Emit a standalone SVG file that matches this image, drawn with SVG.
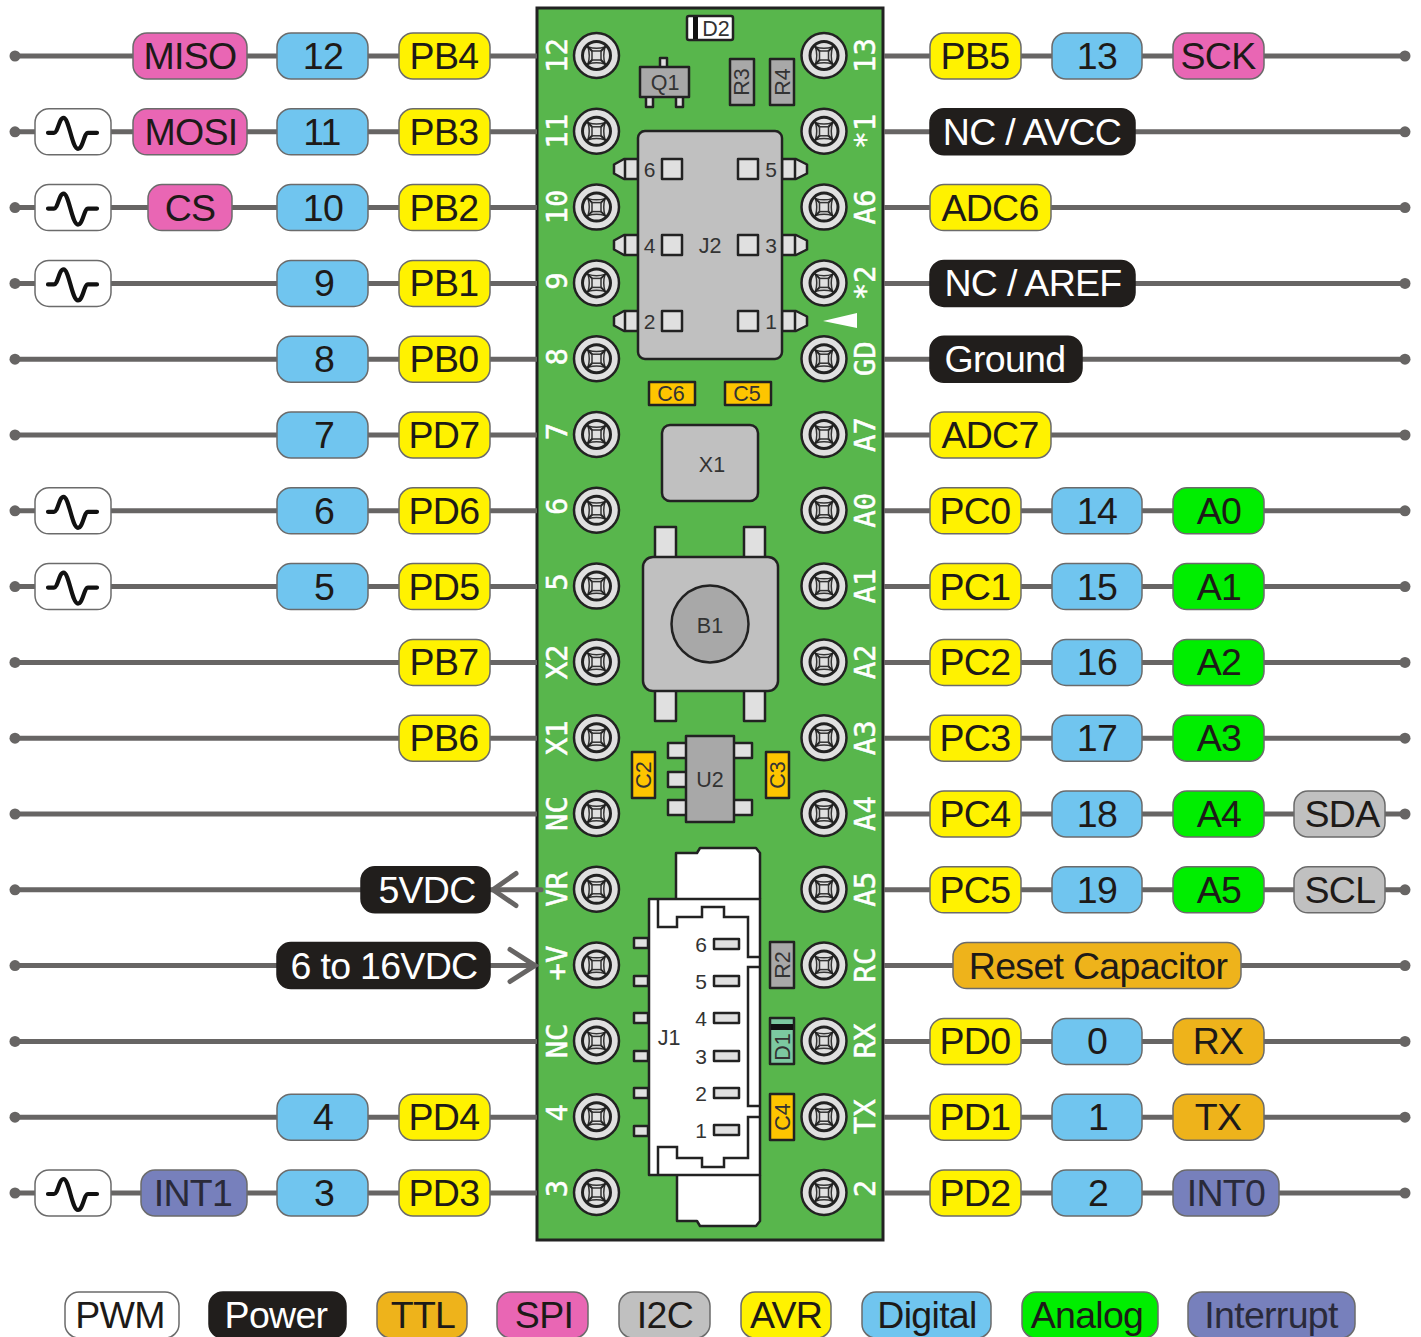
<svg xmlns="http://www.w3.org/2000/svg" width="1421" height="1337" viewBox="0 0 1421 1337">
<style>
text{font-family:"Liberation Sans",Arial,sans-serif}
.pill rect{stroke:#6b6b6b;stroke-width:1.5;rx:14px;ry:14px}
.pill text{font-size:37.5px;text-anchor:middle;fill:#1d1a18;letter-spacing:-.7px}
.avr rect{fill:#fff200}
.dig rect{fill:#70c5ef}
.spi rect{fill:#e966b4}
.pwm rect{fill:#fff}
.pow rect{fill:#211e1c;stroke:#211e1c}
.pow text{fill:#fff}
.ana rect{fill:#00ee00}
.ttl rect{fill:#eeb31b}
.i2c rect{fill:#c0c0c0}
.int rect{fill:#7780bc}
.int text{fill:#2a2a3a}
.wv{fill:#fff;stroke:#6b6b6b;stroke-width:1.5;rx:14px;ry:14px}
.wire{stroke:#676564;stroke-width:5;fill:none}
.arrow{stroke:#676564;stroke-width:5;fill:none;stroke-linecap:round;stroke-linejoin:miter}
.pin{font-family:"DejaVu Sans Mono",monospace;font-size:29px;fill:#fff;stroke:#fff;stroke-width:.5px;text-anchor:middle}
.c{stroke:#222;stroke-width:2.5;stroke-linejoin:round}
.lbl{font-size:21.500px;fill:#333;text-anchor:middle}
.num{font-size:21px}
.g1{fill:#c0c0c0}.g2{fill:#a8a8a8}.g3{fill:#e0e0e0}.cap{fill:#fec500}.wh{fill:#fff}
.in{fill:none;stroke:#222;stroke-width:2.5;stroke-linejoin:miter}
</style>
<defs>
<marker id="dot" markerUnits="userSpaceOnUse" markerWidth="14" markerHeight="14" refX="7" refY="7"><circle cx="7" cy="7" r="5.5" fill="#676564"/></marker>
<g id="pad">
<circle r="22.5" fill="#e0e0e0" stroke="#222" stroke-width="2.5"/>
<circle r="14" fill="#e0e0e0" stroke="#222" stroke-width="3"/>
<path d="M-8.500-8.500Q0-6 8.500-8.500Q6 0 8.500 8.500Q0 6-8.500 8.500Q-6 0-8.500-8.500Z" fill="#e0e0e0" stroke="#333" stroke-width="1.500"/>
<path d="M-10-10L-4-4M10-10L4-4M-10 10L-4 4M10 10L4 4" stroke="#222" stroke-width="2"/>
<rect x="-4.500" y="-4.500" width="9" height="9" fill="#e0e0e0" stroke="#333" stroke-width="1.500"/>
</g>
<g id="wave"><rect class="wv" x="35" y="-23" width="76" height="46"/><path d="M48 1H54C58 1 59-14 63.500-14C69-14 72 17 78 17C83 17 84 1 88 1H97" fill="none" stroke="#111" stroke-width="4.200" stroke-linecap="round" stroke-linejoin="round"/></g>
<g id="tabL"><path d="M638 159H624L614 164.500V173.500L624 179H638Z" class="c g3"/><path d="M625 159V179" class="c"/></g>
<g id="tabR"><path d="M782 159H796L807 164.500V173.500L796 179H782Z" class="c g3"/><path d="M795 159V179" class="c"/></g>
</defs>
<rect width="1421" height="1337" fill="#fff"/>
<g id="board">
<rect x="537" y="8" width="346" height="1232" fill="#58b64c" stroke="#222" stroke-width="3"/>
<g id="pads-left">
<use href="#pad" x="596.500" y="55.500"/><use href="#pad" x="596.500" y="131.300"/><use href="#pad" x="596.500" y="207.100"/><use href="#pad" x="596.500" y="282.900"/><use href="#pad" x="596.500" y="358.700"/><use href="#pad" x="596.500" y="434.500"/><use href="#pad" x="596.500" y="510.300"/><use href="#pad" x="596.500" y="586.100"/><use href="#pad" x="596.500" y="661.900"/><use href="#pad" x="596.500" y="737.700"/><use href="#pad" x="596.500" y="813.500"/><use href="#pad" x="596.500" y="889.300"/><use href="#pad" x="596.500" y="965.100"/><use href="#pad" x="596.500" y="1040.900"/><use href="#pad" x="596.500" y="1116.700"/><use href="#pad" x="596.500" y="1192.500"/>
</g>
<g id="pads-right">
<use href="#pad" x="824" y="55.500"/><use href="#pad" x="824" y="131.300"/><use href="#pad" x="824" y="207.100"/><use href="#pad" x="824" y="282.900"/><use href="#pad" x="824" y="358.700"/><use href="#pad" x="824" y="434.500"/><use href="#pad" x="824" y="510.300"/><use href="#pad" x="824" y="586.100"/><use href="#pad" x="824" y="661.900"/><use href="#pad" x="824" y="737.700"/><use href="#pad" x="824" y="813.500"/><use href="#pad" x="824" y="889.300"/><use href="#pad" x="824" y="965.100"/><use href="#pad" x="824" y="1040.900"/><use href="#pad" x="824" y="1116.700"/><use href="#pad" x="824" y="1192.500"/>
</g>
<g id="pin-labels-left">
<text class="pin" transform="translate(567,55.500) rotate(-90)">12</text>
<text class="pin" transform="translate(567,131.300) rotate(-90)">11</text>
<text class="pin" transform="translate(567,207.100) rotate(-90)">10</text>
<text class="pin" transform="translate(567,280.900) rotate(-90)">9</text>
<text class="pin" transform="translate(567,356.700) rotate(-90)">8</text>
<text class="pin" transform="translate(567,431.500) rotate(-90)">7</text>
<text class="pin" transform="translate(567,506.300) rotate(-90)">6</text>
<text class="pin" transform="translate(567,582.100) rotate(-90)">5</text>
<text class="pin" transform="translate(567,661.900) rotate(-90)">X2</text>
<text class="pin" transform="translate(567,737.700) rotate(-90)">X1</text>
<text class="pin" transform="translate(567,813.500) rotate(-90)">NC</text>
<text class="pin" transform="translate(567,889.300) rotate(-90)">VR</text>
<text class="pin" transform="translate(567,963.100) rotate(-90)">+V</text>
<text class="pin" transform="translate(567,1040.900) rotate(-90)">NC</text>
<text class="pin" transform="translate(567,1112.700) rotate(-90)">4</text>
<text class="pin" transform="translate(567,1188.500) rotate(-90)">3</text>
</g>
<g id="pin-labels-right">
<text class="pin" transform="translate(875,55.500) rotate(-90)">13</text>
<text class="pin" transform="translate(875,131.300) rotate(-90)">*1</text>
<text class="pin" transform="translate(875,207.100) rotate(-90)">A6</text>
<text class="pin" transform="translate(875,282.900) rotate(-90)">*2</text>
<text class="pin" transform="translate(875,358.700) rotate(-90)">GD</text>
<text class="pin" transform="translate(875,434.500) rotate(-90)">A7</text>
<text class="pin" transform="translate(875,510.300) rotate(-90)">A0</text>
<text class="pin" transform="translate(875,586.100) rotate(-90)">A1</text>
<text class="pin" transform="translate(875,661.900) rotate(-90)">A2</text>
<text class="pin" transform="translate(875,737.700) rotate(-90)">A3</text>
<text class="pin" transform="translate(875,813.500) rotate(-90)">A4</text>
<text class="pin" transform="translate(875,889.300) rotate(-90)">A5</text>
<text class="pin" transform="translate(875,965.100) rotate(-90)">RC</text>
<text class="pin" transform="translate(875,1040.900) rotate(-90)">RX</text>
<text class="pin" transform="translate(875,1116.700) rotate(-90)">TX</text>
<text class="pin" transform="translate(875,1188.500) rotate(-90)">2</text>
</g>
<g id="D2"><rect x="687" y="16" width="46" height="24" rx="2" class="c wh"/><rect x="693" y="17" width="5" height="22" fill="#111"/><text class="lbl" x="716" y="35.500">D2</text></g>
<g id="Q1"><rect x="660" y="58" width="7" height="10" class="c g3"/><rect x="646" y="96" width="7" height="11" class="c g3"/><rect x="676" y="96" width="7" height="11" class="c g3"/><rect x="640" y="67" width="49" height="30" class="c g2"/><text class="lbl" x="665" y="90">Q1</text></g>
<g id="R3"><rect x="730" y="59" width="24" height="46" class="c g2"/><text class="lbl" transform="translate(749,82) rotate(-90)">R3</text></g>
<g id="R4"><rect x="770" y="59" width="24" height="46" class="c g2"/><text class="lbl" transform="translate(790,82) rotate(-90)">R4</text></g>
<g id="J2">
<use href="#tabL"/><use href="#tabL" y="76"/><use href="#tabL" y="152"/><use href="#tabR"/><use href="#tabR" y="76"/><use href="#tabR" y="152"/>
<rect x="638" y="131" width="144" height="228" rx="7" class="c g1"/>
<rect x="662" y="159" width="20" height="20" class="c g3"/><rect x="738" y="159" width="20" height="20" class="c g3"/>
<rect x="662" y="235" width="20" height="20" class="c g3"/><rect x="738" y="235" width="20" height="20" class="c g3"/>
<rect x="662" y="311" width="20" height="20" class="c g3"/><rect x="738" y="311" width="20" height="20" class="c g3"/>
<text class="lbl num" x="649.500" y="176.500">6</text><text class="lbl num" x="771" y="176.500">5</text>
<text class="lbl num" x="649.500" y="252.500">4</text><text class="lbl num" x="771" y="252.500">3</text>
<text class="lbl num" x="649.500" y="328.500">2</text><text class="lbl num" x="771" y="328.500">1</text>
<text class="lbl" x="710" y="252.500">J2</text>
</g>
<path id="pin1-mark" d="M823 321L857 313V328Z" fill="#fff"/>
<g id="C6"><rect x="649" y="382" width="46" height="23" class="c cap"/><text class="lbl" x="671" y="401">C6</text></g>
<g id="C5"><rect x="725" y="382" width="46" height="23" class="c cap"/><text class="lbl" x="747" y="401">C5</text></g>
<g id="X1"><rect x="662" y="425" width="96" height="76" rx="8" class="c g1"/><text class="lbl" x="712" y="471.500">X1</text></g>
<g id="B1">
<rect x="655" y="527" width="21" height="32" class="c g3"/><rect x="744" y="527" width="21" height="32" class="c g3"/>
<rect x="655" y="689" width="21" height="32" class="c g3"/><rect x="744" y="689" width="21" height="32" class="c g3"/>
<rect x="643" y="557" width="135" height="134" rx="10" class="c g1"/><circle cx="710" cy="624" r="38.500" class="c g2"/><text class="lbl" x="710" y="632.500">B1</text>
</g>
<g id="U2">
<rect x="668" y="743" width="19" height="15" class="c g3"/><rect x="668" y="772" width="19" height="15" class="c g3"/><rect x="668" y="800" width="19" height="15" class="c g3"/>
<rect x="733" y="743" width="19" height="15" class="c g3"/><rect x="733" y="800" width="19" height="15" class="c g3"/>
<rect x="686" y="736" width="48" height="86" class="c g2"/><text class="lbl" x="710" y="787">U2</text>
</g>
<g id="C2"><rect x="632" y="752" width="23" height="46" class="c cap"/><text class="lbl" transform="translate(651,775) rotate(-90)">C2</text></g>
<g id="C3"><rect x="766" y="752" width="23" height="46" class="c cap"/><text class="lbl" transform="translate(785,775) rotate(-90)">C3</text></g>
<g id="J1">
<path d="M676 899V853H697L700 848H756L760 853V899" class="c wh"/>
<path d="M677 1175V1221H697L700 1226H756L760 1221V1175" class="c wh"/>
<rect x="634" y="938" width="14" height="10" class="c g3"/><rect x="634" y="976" width="14" height="10" class="c g3"/><rect x="634" y="1013" width="14" height="10" class="c g3"/><rect x="634" y="1051" width="14" height="10" class="c g3"/><rect x="634" y="1088" width="14" height="10" class="c g3"/><rect x="634" y="1126" width="14" height="10" class="c g3"/>
<path d="M760 899H649V1175H760Z" class="c wh"/>
<path class="in" d="M658 899V927H677V917H702V907H724V917H748V957H760M760 967H748V1106H760M760 1117H748V1158H724V1167H702V1158H677V1147H658V1175"/>
<rect x="714" y="939" width="25" height="10" class="c g3"/><rect x="714" y="976" width="25" height="10" class="c g3"/><rect x="714" y="1013" width="25" height="10" class="c g3"/><rect x="714" y="1051" width="25" height="10" class="c g3"/><rect x="714" y="1088" width="25" height="10" class="c g3"/><rect x="714" y="1125" width="25" height="10" class="c g3"/>
<text class="lbl num" x="701" y="951.500">6</text><text class="lbl num" x="701" y="989">5</text><text class="lbl num" x="701" y="1026">4</text><text class="lbl num" x="701" y="1063.500">3</text><text class="lbl num" x="701" y="1101">2</text><text class="lbl num" x="701" y="1138">1</text>
<text class="lbl" x="669" y="1045">J1</text>
</g>
<g id="R2"><rect x="770" y="942" width="24" height="46" class="c g2"/><text class="lbl" transform="translate(790,965) rotate(-90)">R2</text></g>
<g id="D1"><rect x="770" y="1018" width="24" height="46" class="c" fill="#7cc8a0"/><rect x="771" y="1024" width="22" height="6" fill="#111"/><text class="lbl" transform="translate(790,1047) rotate(-90)">D1</text></g>
<g id="C4"><rect x="770" y="1094" width="24" height="46" class="c cap"/><text class="lbl" transform="translate(790,1117) rotate(-90)">C4</text></g>
</g>
<g id="connectors" class="wire" transform="translate(0,.5)">
<path marker-start="url(#dot)" d="M15 55.500H537"/><path marker-start="url(#dot)" d="M15 131.300H537"/><path marker-start="url(#dot)" d="M15 207.100H537"/><path marker-start="url(#dot)" d="M15 282.900H537"/><path marker-start="url(#dot)" d="M15 358.700H537"/><path marker-start="url(#dot)" d="M15 434.500H537"/><path marker-start="url(#dot)" d="M15 510.300H537"/><path marker-start="url(#dot)" d="M15 586.100H537"/><path marker-start="url(#dot)" d="M15 661.900H537"/><path marker-start="url(#dot)" d="M15 737.700H537"/><path marker-start="url(#dot)" d="M15 813.500H537"/><path marker-start="url(#dot)" d="M15 889.300H541" stroke-linecap="round"/><path marker-start="url(#dot)" d="M15 965.100H534"/><path marker-start="url(#dot)" d="M15 1040.900H537"/><path marker-start="url(#dot)" d="M15 1116.700H537"/><path marker-start="url(#dot)" d="M15 1192.500H537"/>
<path marker-end="url(#dot)" d="M884 55.500H1405"/><path marker-end="url(#dot)" d="M884 131.300H1405"/><path marker-end="url(#dot)" d="M884 207.100H1405"/><path marker-end="url(#dot)" d="M884 282.900H1405"/><path marker-end="url(#dot)" d="M884 358.700H1405"/><path marker-end="url(#dot)" d="M884 434.500H1405"/><path marker-end="url(#dot)" d="M884 510.300H1405"/><path marker-end="url(#dot)" d="M884 586.100H1405"/><path marker-end="url(#dot)" d="M884 661.900H1405"/><path marker-end="url(#dot)" d="M884 737.700H1405"/><path marker-end="url(#dot)" d="M884 813.500H1405"/><path marker-end="url(#dot)" d="M884 889.300H1405"/><path marker-end="url(#dot)" d="M884 965.100H1405"/><path marker-end="url(#dot)" d="M884 1040.900H1405"/><path marker-end="url(#dot)" d="M884 1116.700H1405"/><path marker-end="url(#dot)" d="M884 1192.500H1405"/>
<path class="arrow" d="M516 873L493 889.300L516 905"/><path class="arrow" d="M510 949L535 965.100L510 981"/>
</g>
<g id="pins-left" transform="translate(0,.5)">
<g class="pill spi" id="miso" transform="translate(0,55.500)"><rect x="133" y="-23" width="114" height="46"/><text x="190" y="13">MISO</text></g>
<g class="pill dig" id="d12" transform="translate(0,55.500)"><rect x="277" y="-23" width="91" height="46"/><text x="323" y="13">12</text></g>
<g class="pill avr" id="pb4" transform="translate(0,55.500)"><rect x="399" y="-23" width="91" height="46"/><text x="444" y="13">PB4</text></g>
<g class="pill pwm" id="pwm11" transform="translate(0,131.300)"><use href="#wave"/></g>
<g class="pill spi" id="mosi" transform="translate(0,131.300)"><rect x="133" y="-23" width="114" height="46"/><text x="191" y="13">MOSI</text></g>
<g class="pill dig" id="d11" transform="translate(0,131.300)"><rect x="277" y="-23" width="91" height="46"/><text x="322" y="13">11</text></g>
<g class="pill avr" id="pb3" transform="translate(0,131.300)"><rect x="399" y="-23" width="91" height="46"/><text x="444" y="13">PB3</text></g>
<g class="pill pwm" id="pwm10" transform="translate(0,207.100)"><use href="#wave"/></g>
<g class="pill spi" id="cs" transform="translate(0,207.100)"><rect x="148" y="-23" width="84" height="46"/><text x="190" y="13">CS</text></g>
<g class="pill dig" id="d10" transform="translate(0,207.100)"><rect x="277" y="-23" width="91" height="46"/><text x="323" y="13">10</text></g>
<g class="pill avr" id="pb2" transform="translate(0,207.100)"><rect x="399" y="-23" width="91" height="46"/><text x="444" y="13">PB2</text></g>
<g class="pill pwm" id="pwm9" transform="translate(0,282.900)"><use href="#wave"/></g>
<g class="pill dig" id="d9" transform="translate(0,282.900)"><rect x="277" y="-23" width="91" height="46"/><text x="324" y="13">9</text></g>
<g class="pill avr" id="pb1" transform="translate(0,282.900)"><rect x="399" y="-23" width="91" height="46"/><text x="444" y="13">PB1</text></g>
<g class="pill dig" id="d8" transform="translate(0,358.700)"><rect x="277" y="-23" width="91" height="46"/><text x="324" y="13">8</text></g>
<g class="pill avr" id="pb0" transform="translate(0,358.700)"><rect x="399" y="-23" width="91" height="46"/><text x="444" y="13">PB0</text></g>
<g class="pill dig" id="d7" transform="translate(0,434.500)"><rect x="277" y="-23" width="91" height="46"/><text x="324" y="13">7</text></g>
<g class="pill avr" id="pd7" transform="translate(0,434.500)"><rect x="399" y="-23" width="91" height="46"/><text x="444" y="13">PD7</text></g>
<g class="pill pwm" id="pwm6" transform="translate(0,510.300)"><use href="#wave"/></g>
<g class="pill dig" id="d6" transform="translate(0,510.300)"><rect x="277" y="-23" width="91" height="46"/><text x="324" y="13">6</text></g>
<g class="pill avr" id="pd6" transform="translate(0,510.300)"><rect x="399" y="-23" width="91" height="46"/><text x="444" y="13">PD6</text></g>
<g class="pill pwm" id="pwm5" transform="translate(0,586.100)"><use href="#wave"/></g>
<g class="pill dig" id="d5" transform="translate(0,586.100)"><rect x="277" y="-23" width="91" height="46"/><text x="324" y="13">5</text></g>
<g class="pill avr" id="pd5" transform="translate(0,586.100)"><rect x="399" y="-23" width="91" height="46"/><text x="444" y="13">PD5</text></g>
<g class="pill avr" id="pb7" transform="translate(0,661.900)"><rect x="399" y="-23" width="91" height="46"/><text x="444" y="13">PB7</text></g>
<g class="pill avr" id="pb6" transform="translate(0,737.700)"><rect x="399" y="-23" width="91" height="46"/><text x="444" y="13">PB6</text></g>
<g class="pill pow" id="v5" transform="translate(0,889.300)"><rect x="361" y="-23" width="129" height="46"/><text x="427" y="13">5VDC</text></g>
<g class="pill pow" id="vin" transform="translate(0,965.100)"><rect x="277" y="-23" width="213" height="46"/><text x="384" y="13">6 to 16VDC</text></g>
<g class="pill dig" id="d4" transform="translate(0,1116.700)"><rect x="277" y="-23" width="91" height="46"/><text x="323" y="13">4</text></g>
<g class="pill avr" id="pd4" transform="translate(0,1116.700)"><rect x="399" y="-23" width="91" height="46"/><text x="444" y="13">PD4</text></g>
<g class="pill pwm" id="pwm3" transform="translate(0,1192.500)"><use href="#wave"/></g>
<g class="pill int" id="int1" transform="translate(0,1192.500)"><rect x="141" y="-23" width="106" height="46"/><text x="193" y="13">INT1</text></g>
<g class="pill dig" id="d3" transform="translate(0,1192.500)"><rect x="277" y="-23" width="91" height="46"/><text x="324" y="13">3</text></g>
<g class="pill avr" id="pd3" transform="translate(0,1192.500)"><rect x="399" y="-23" width="91" height="46"/><text x="444" y="13">PD3</text></g>
</g>
<g id="pins-right" transform="translate(0,.5)">
<g class="pill avr" id="pb5" transform="translate(0,55.500)"><rect x="930" y="-23" width="91" height="46"/><text x="975" y="13">PB5</text></g>
<g class="pill dig" id="d13" transform="translate(0,55.500)"><rect x="1052" y="-23" width="90" height="46"/><text x="1097" y="13">13</text></g>
<g class="pill spi" id="sck" transform="translate(0,55.500)"><rect x="1173" y="-23" width="91" height="46"/><text x="1218" y="13">SCK</text></g>
<g class="pill pow" id="avcc" transform="translate(0,131.300)"><rect x="930" y="-23" width="205" height="46"/><text x="1032" y="13">NC / AVCC</text></g>
<g class="pill avr" id="adc6" transform="translate(0,207.100)"><rect x="930" y="-23" width="121" height="46"/><text x="990" y="13">ADC6</text></g>
<g class="pill pow" id="aref" transform="translate(0,282.900)"><rect x="930" y="-23" width="205" height="46"/><text x="1033" y="13">NC / AREF</text></g>
<g class="pill pow" id="gnd" transform="translate(0,358.700)"><rect x="930" y="-23" width="152" height="46"/><text x="1005" y="13">Ground</text></g>
<g class="pill avr" id="adc7" transform="translate(0,434.500)"><rect x="930" y="-23" width="121" height="46"/><text x="990" y="13">ADC7</text></g>
<g class="pill avr" id="pc0" transform="translate(0,510.300)"><rect x="930" y="-23" width="91" height="46"/><text x="975" y="13">PC0</text></g>
<g class="pill dig" id="d14" transform="translate(0,510.300)"><rect x="1052" y="-23" width="90" height="46"/><text x="1097" y="13">14</text></g>
<g class="pill ana" id="a0" transform="translate(0,510.300)"><rect x="1173" y="-23" width="91" height="46"/><text x="1219" y="13">A0</text></g>
<g class="pill avr" id="pc1" transform="translate(0,586.100)"><rect x="930" y="-23" width="91" height="46"/><text x="975" y="13">PC1</text></g>
<g class="pill dig" id="d15" transform="translate(0,586.100)"><rect x="1052" y="-23" width="90" height="46"/><text x="1097" y="13">15</text></g>
<g class="pill ana" id="a1" transform="translate(0,586.100)"><rect x="1173" y="-23" width="91" height="46"/><text x="1219" y="13">A1</text></g>
<g class="pill avr" id="pc2" transform="translate(0,661.900)"><rect x="930" y="-23" width="91" height="46"/><text x="975" y="13">PC2</text></g>
<g class="pill dig" id="d16" transform="translate(0,661.900)"><rect x="1052" y="-23" width="90" height="46"/><text x="1097" y="13">16</text></g>
<g class="pill ana" id="a2" transform="translate(0,661.900)"><rect x="1173" y="-23" width="91" height="46"/><text x="1219" y="13">A2</text></g>
<g class="pill avr" id="pc3" transform="translate(0,737.700)"><rect x="930" y="-23" width="91" height="46"/><text x="975" y="13">PC3</text></g>
<g class="pill dig" id="d17" transform="translate(0,737.700)"><rect x="1052" y="-23" width="90" height="46"/><text x="1097" y="13">17</text></g>
<g class="pill ana" id="a3" transform="translate(0,737.700)"><rect x="1173" y="-23" width="91" height="46"/><text x="1219" y="13">A3</text></g>
<g class="pill avr" id="pc4" transform="translate(0,813.500)"><rect x="930" y="-23" width="91" height="46"/><text x="975" y="13">PC4</text></g>
<g class="pill dig" id="d18" transform="translate(0,813.500)"><rect x="1052" y="-23" width="90" height="46"/><text x="1097" y="13">18</text></g>
<g class="pill ana" id="a4" transform="translate(0,813.500)"><rect x="1173" y="-23" width="91" height="46"/><text x="1219" y="13">A4</text></g>
<g class="pill i2c" id="sda" transform="translate(0,813.500)"><rect x="1294" y="-23" width="91" height="46"/><text x="1342" y="13">SDA</text></g>
<g class="pill avr" id="pc5" transform="translate(0,889.300)"><rect x="930" y="-23" width="91" height="46"/><text x="975" y="13">PC5</text></g>
<g class="pill dig" id="d19" transform="translate(0,889.300)"><rect x="1052" y="-23" width="90" height="46"/><text x="1097" y="13">19</text></g>
<g class="pill ana" id="a5" transform="translate(0,889.300)"><rect x="1173" y="-23" width="91" height="46"/><text x="1219" y="13">A5</text></g>
<g class="pill i2c" id="scl" transform="translate(0,889.300)"><rect x="1294" y="-23" width="91" height="46"/><text x="1340" y="13">SCL</text></g>
<g class="pill ttl" id="reset" transform="translate(0,965.100)"><rect x="953" y="-23" width="288" height="46"/><text x="1098" y="13">Reset Capacitor</text></g>
<g class="pill avr" id="pd0" transform="translate(0,1040.900)"><rect x="930" y="-23" width="91" height="46"/><text x="975" y="13">PD0</text></g>
<g class="pill dig" id="d0" transform="translate(0,1040.900)"><rect x="1052" y="-23" width="90" height="46"/><text x="1097" y="13">0</text></g>
<g class="pill ttl" id="rx" transform="translate(0,1040.900)"><rect x="1173" y="-23" width="91" height="46"/><text x="1218" y="13">RX</text></g>
<g class="pill avr" id="pd1" transform="translate(0,1116.700)"><rect x="930" y="-23" width="91" height="46"/><text x="975" y="13">PD1</text></g>
<g class="pill dig" id="d1" transform="translate(0,1116.700)"><rect x="1052" y="-23" width="90" height="46"/><text x="1098" y="13">1</text></g>
<g class="pill ttl" id="tx" transform="translate(0,1116.700)"><rect x="1173" y="-23" width="91" height="46"/><text x="1218" y="13">TX</text></g>
<g class="pill avr" id="pd2" transform="translate(0,1192.500)"><rect x="930" y="-23" width="91" height="46"/><text x="975" y="13">PD2</text></g>
<g class="pill dig" id="d2" transform="translate(0,1192.500)"><rect x="1052" y="-23" width="90" height="46"/><text x="1098" y="13">2</text></g>
<g class="pill int" id="int0" transform="translate(0,1192.500)"><rect x="1173" y="-23" width="106" height="46"/><text x="1226" y="13">INT0</text></g>
</g>
<g id="legend">
<g class="pill pwm" id="leg-pwm" transform="translate(0,1315)"><rect x="65" y="-23" width="114" height="46"/><text x="120" y="13">PWM</text></g>
<g class="pill pow" id="leg-power" transform="translate(0,1315)"><rect x="209" y="-23" width="137" height="46"/><text x="276" y="13">Power</text></g>
<g class="pill ttl" id="leg-ttl" transform="translate(0,1315)"><rect x="377" y="-23" width="90" height="46"/><text x="423" y="13">TTL</text></g>
<g class="pill spi" id="leg-spi" transform="translate(0,1315)"><rect x="497" y="-23" width="91" height="46"/><text x="544" y="13">SPI</text></g>
<g class="pill i2c" id="leg-i2c" transform="translate(0,1315)"><rect x="619" y="-23" width="91" height="46"/><text x="665" y="13">I2C</text></g>
<g class="pill avr" id="leg-avr" transform="translate(0,1315)"><rect x="741" y="-23" width="90" height="46"/><text x="786" y="13">AVR</text></g>
<g class="pill dig" id="leg-dig" transform="translate(0,1315)"><rect x="862" y="-23" width="129" height="46"/><text x="927" y="13">Digital</text></g>
<g class="pill ana" id="leg-ana" transform="translate(0,1315)"><rect x="1022" y="-23" width="136" height="46"/><text x="1087" y="13">Analog</text></g>
<g class="pill int" id="leg-int" transform="translate(0,1315)"><rect x="1188" y="-23" width="167" height="46"/><text x="1271" y="13">Interrupt</text></g>
</g>
</svg>
